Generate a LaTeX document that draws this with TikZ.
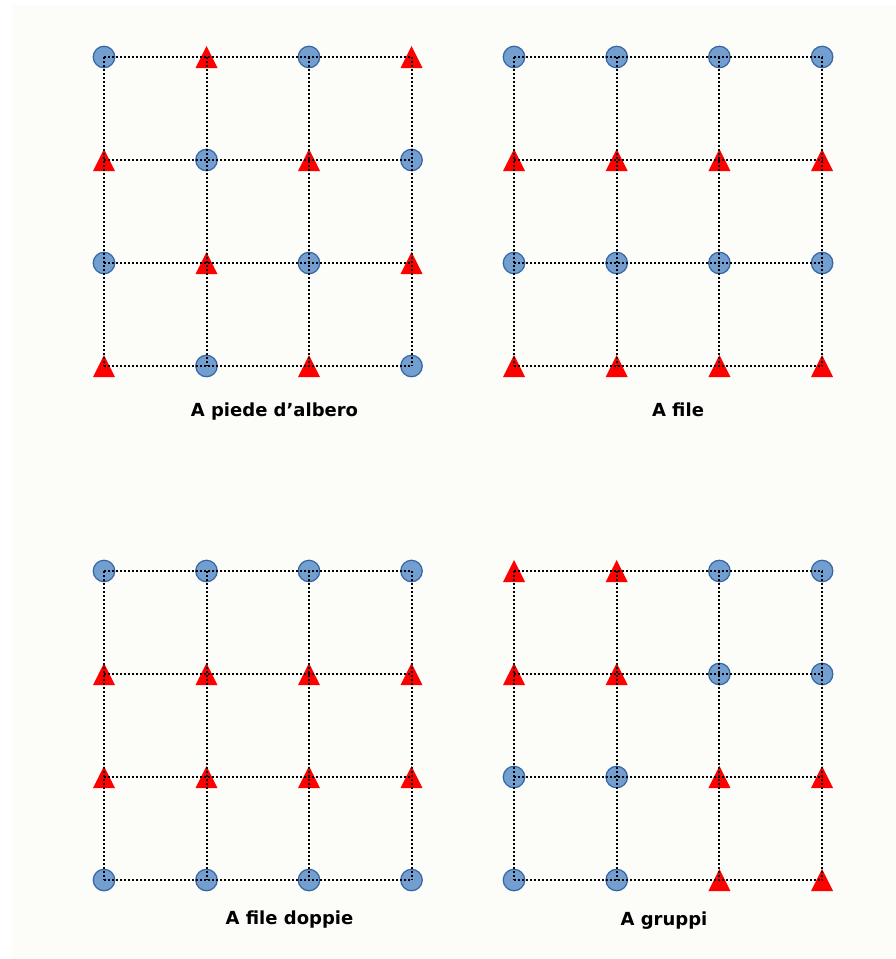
\documentclass[tikz,border=0pt]{standalone}
\usepackage{fontspec}
\setmainfont{DejaVu Sans}
\usepackage{xcolor}
\definecolor{ptblue}{HTML}{729FCF}
\definecolor{ptedge}{HTML}{3465A4}
\definecolor{paper}{HTML}{FCFCF8}

\begin{document}
\begin{tikzpicture}[x=1pt,y=-1pt,font=\bfseries\fontsize{18}{20}\selectfont]
\tikzset{
  mkc/.style={circle,draw=ptedge,fill=ptblue,line width=1.2pt,minimum size=21.5pt,inner sep=0pt},
  mkt/.style={rectangle,minimum size=22pt,inner sep=0pt,
    path picture={\fill[red] (path picture bounding box.north) -- (path picture bounding box.south east)
      -- (path picture bounding box.south west) -- cycle;}},
  gridline/.style={dash pattern=on 2pt off 2pt,line width=2pt},
  caption/.style={anchor=base}
}
\useasboundingbox (0,0) rectangle (896,959);
\fill[paper] (12,5) rectangle (896,959);
% A piede d'albero
\foreach \t [count=\k from 0] in {c,t,c,t, t,c,t,c, c,t,c,t, t,c,t,c}{
  \pgfmathtruncatemacro\cc{mod(\k,4)}
  \pgfmathtruncatemacro\rr{div(\k,4)}
  \node[mk\t] (a-\cc-\rr) at (104+102.5*\cc,57+103*\rr) {};
}
% A file
\foreach \t [count=\k from 0] in {c,c,c,c, t,t,t,t, c,c,c,c, t,t,t,t}{
  \pgfmathtruncatemacro\cc{mod(\k,4)}
  \pgfmathtruncatemacro\rr{div(\k,4)}
  \node[mk\t] (b-\cc-\rr) at (514+102.7*\cc,57+103*\rr) {};
}
% A file doppie
\foreach \t [count=\k from 0] in {c,c,c,c, t,t,t,t, t,t,t,t, c,c,c,c}{
  \pgfmathtruncatemacro\cc{mod(\k,4)}
  \pgfmathtruncatemacro\rr{div(\k,4)}
  \node[mk\t] (c-\cc-\rr) at (104+102.5*\cc,571+103*\rr) {};
}
% A gruppi
\foreach \t [count=\k from 0] in {t,t,c,c, t,t,c,c, c,c,t,t, c,c,t,t}{
  \pgfmathtruncatemacro\cc{mod(\k,4)}
  \pgfmathtruncatemacro\rr{div(\k,4)}
  \node[mk\t] (d-\cc-\rr) at (514+102.7*\cc,571+103*\rr) {};
}
% dotted grid
\foreach \p in {a,b,c,d}{
  \foreach \i in {0,...,3}{
    \draw[gridline] (\p-0-\i.center) -- (\p-3-\i.center);
    \draw[gridline] (\p-\i-0.center) -- (\p-\i-3.center);
  }
}
\node[caption] (capa) at (274.5,416) {A piede d’albero};
\node[caption] (capb) at (678,416) {A file};
\node[caption] (capc) at (289.5,924) {A file doppie};
\node[caption] (capd) at (664,925) {A gruppi};
\end{tikzpicture}
\end{document}
